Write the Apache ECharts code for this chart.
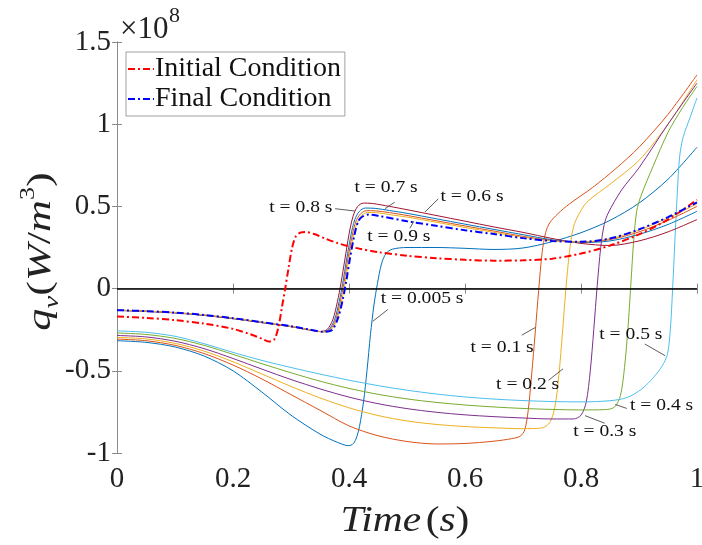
<!DOCTYPE html>
<html><head><meta charset="utf-8">
<script src="https://cdn.jsdelivr.net/npm/echarts@6/dist/echarts.min.js"></script>
<style>html,body{margin:0;padding:0;background:#fff}#c{width:702px;height:545px}</style>
</head><body><div id="c"></div>
<script>
const FONT = '"Liberation Serif","Times New Roman",serif';

// ---- data (time in s, q_v in units of 1e8 W/m^3) ----
const xTicks = [0, 0.2, 0.4, 0.6, 0.8, 1];
const yTicks = [-1, -0.5, 0, 0.5, 1, 1.5];

const c005 = [[0,-0.317],[0.05,-0.327],[0.1,-0.355],[0.15,-0.41],[0.2,-0.5],[0.25,-0.63],[0.3,-0.77],[0.35,-0.885],[0.38,-0.935],[0.399,-0.955],[0.406,-0.948],[0.412,-0.915],[0.418,-0.84],[0.425,-0.69],[0.431,-0.5],[0.437,-0.28],[0.443,-0.1],[0.449,0.03],[0.456,0.15],[0.464,0.215],[0.475,0.24],[0.5,0.25],[0.55,0.25],[0.6,0.245],[0.65,0.238],[0.7,0.247],[0.75,0.285],[0.8,0.34],[0.85,0.415],[0.9,0.52],[0.95,0.665],[1.0,0.86]];
const c01 = [[0,-0.307],[0.05,-0.317],[0.1,-0.345],[0.15,-0.395],[0.2,-0.465],[0.25,-0.55],[0.3,-0.645],[0.35,-0.74],[0.4,-0.835],[0.45,-0.895],[0.5,-0.93],[0.55,-0.945],[0.6,-0.942],[0.65,-0.928],[0.68,-0.913],[0.695,-0.898],[0.703,-0.86],[0.709,-0.74],[0.715,-0.52],[0.721,-0.27],[0.727,-0.01],[0.733,0.22],[0.739,0.34],[0.746,0.4],[0.76,0.455],[0.78,0.515],[0.82,0.615],[0.86,0.73],[0.9,0.86],[0.95,1.06],[1.0,1.3]];
const c02 = [[0,-0.297],[0.05,-0.306],[0.1,-0.333],[0.15,-0.38],[0.2,-0.445],[0.25,-0.52],[0.3,-0.595],[0.35,-0.665],[0.4,-0.725],[0.45,-0.772],[0.5,-0.805],[0.55,-0.826],[0.6,-0.839],[0.65,-0.847],[0.7,-0.852],[0.732,-0.848],[0.746,-0.815],[0.755,-0.72],[0.762,-0.52],[0.768,-0.27],[0.774,0.0],[0.78,0.22],[0.786,0.36],[0.793,0.43],[0.81,0.525],[0.85,0.635],[0.9,0.78],[0.95,1.0],[1.0,1.27]];
const c03 = [[0,-0.285],[0.05,-0.294],[0.1,-0.32],[0.15,-0.365],[0.2,-0.425],[0.25,-0.49],[0.3,-0.553],[0.35,-0.61],[0.4,-0.66],[0.45,-0.7],[0.5,-0.73],[0.55,-0.752],[0.6,-0.768],[0.65,-0.779],[0.7,-0.787],[0.75,-0.793],[0.787,-0.793],[0.8,-0.77],[0.809,-0.69],[0.816,-0.5],[0.822,-0.25],[0.828,0.02],[0.834,0.25],[0.84,0.39],[0.847,0.46],[0.87,0.6],[0.9,0.735],[0.95,1.0],[1.0,1.25]];
const c04 = [[0,-0.27],[0.05,-0.279],[0.1,-0.303],[0.15,-0.345],[0.2,-0.4],[0.25,-0.457],[0.3,-0.512],[0.35,-0.563],[0.4,-0.607],[0.45,-0.643],[0.5,-0.671],[0.55,-0.692],[0.6,-0.708],[0.65,-0.72],[0.7,-0.729],[0.75,-0.735],[0.8,-0.738],[0.842,-0.736],[0.858,-0.72],[0.868,-0.65],[0.875,-0.48],[0.881,-0.24],[0.886,0.03],[0.891,0.3],[0.896,0.47],[0.903,0.56],[0.925,0.75],[0.95,0.95],[0.975,1.1],[1.0,1.23]];
const c05 = [[0,-0.257],[0.05,-0.266],[0.1,-0.29],[0.15,-0.335],[0.2,-0.388],[0.25,-0.437],[0.3,-0.48],[0.35,-0.52],[0.4,-0.557],[0.45,-0.59],[0.5,-0.618],[0.55,-0.641],[0.6,-0.659],[0.65,-0.672],[0.7,-0.681],[0.75,-0.687],[0.8,-0.689],[0.85,-0.682],[0.88,-0.662],[0.905,-0.61],[0.925,-0.54],[0.94,-0.47],[0.949,-0.4],[0.954,-0.25],[0.958,0.0],[0.962,0.3],[0.966,0.58],[0.97,0.8],[0.976,0.92],[0.988,1.04],[1.0,1.16]];
const c06 = [[0,-0.133],[0.05,-0.139],[0.1,-0.148],[0.15,-0.163],[0.2,-0.183],[0.25,-0.207],[0.3,-0.232],[0.33,-0.25],[0.35,-0.261],[0.362,-0.25],[0.372,-0.19],[0.38,-0.08],[0.386,0.03],[0.393,0.18],[0.4,0.33],[0.407,0.44],[0.415,0.5],[0.425,0.52],[0.44,0.518],[0.47,0.5],[0.5,0.48],[0.55,0.445],[0.6,0.41],[0.65,0.375],[0.7,0.342],[0.75,0.305],[0.8,0.275],[0.85,0.262],[0.9,0.29],[0.95,0.345],[1.0,0.42]];
const c07 = [[0,-0.132],[0.05,-0.138],[0.1,-0.147],[0.15,-0.162],[0.2,-0.182],[0.25,-0.206],[0.3,-0.231],[0.33,-0.25],[0.353,-0.262],[0.365,-0.25],[0.375,-0.19],[0.383,-0.08],[0.389,0.03],[0.396,0.18],[0.403,0.32],[0.41,0.42],[0.418,0.47],[0.428,0.49],[0.445,0.488],[0.47,0.475],[0.5,0.458],[0.55,0.425],[0.6,0.392],[0.65,0.36],[0.7,0.328],[0.75,0.297],[0.8,0.28],[0.85,0.29],[0.9,0.33],[0.95,0.39],[1.0,0.47]];
const c08 = [[0,-0.131],[0.05,-0.137],[0.1,-0.146],[0.15,-0.161],[0.2,-0.181],[0.25,-0.205],[0.3,-0.23],[0.33,-0.249],[0.355,-0.263],[0.367,-0.25],[0.377,-0.19],[0.385,-0.08],[0.391,0.03],[0.398,0.18],[0.405,0.315],[0.412,0.41],[0.42,0.455],[0.43,0.474],[0.445,0.473],[0.47,0.462],[0.5,0.445],[0.55,0.413],[0.6,0.381],[0.65,0.35],[0.7,0.318],[0.75,0.293],[0.8,0.283],[0.85,0.298],[0.9,0.345],[0.95,0.415],[1.0,0.5]];
const c09 = [[0,-0.131],[0.05,-0.137],[0.1,-0.146],[0.15,-0.16],[0.2,-0.18],[0.25,-0.205],[0.3,-0.23],[0.33,-0.249],[0.356,-0.263],[0.369,-0.25],[0.379,-0.19],[0.387,-0.08],[0.393,0.03],[0.4,0.18],[0.407,0.31],[0.414,0.4],[0.422,0.445],[0.432,0.463],[0.447,0.462],[0.47,0.45],[0.5,0.435],[0.55,0.404],[0.6,0.372],[0.65,0.342],[0.7,0.312],[0.75,0.29],[0.8,0.284],[0.85,0.304],[0.9,0.356],[0.95,0.43],[1.0,0.515]];
const cInitial = [[0,-0.17],[0.05,-0.178],[0.1,-0.192],[0.15,-0.213],[0.2,-0.245],[0.23,-0.278],[0.25,-0.305],[0.262,-0.322],[0.271,-0.31],[0.278,-0.24],[0.284,-0.12],[0.29,0.0],[0.296,0.13],[0.302,0.25],[0.308,0.315],[0.316,0.34],[0.325,0.345],[0.34,0.332],[0.36,0.303],[0.38,0.277],[0.4,0.257],[0.42,0.241],[0.45,0.222],[0.5,0.2],[0.55,0.185],[0.6,0.175],[0.65,0.17],[0.7,0.172],[0.75,0.182],[0.8,0.213],[0.85,0.262],[0.9,0.33],[0.95,0.42],[1.0,0.54]];
const cFinal = [[0,-0.131],[0.05,-0.137],[0.1,-0.146],[0.15,-0.16],[0.2,-0.18],[0.25,-0.204],[0.3,-0.229],[0.33,-0.248],[0.357,-0.263],[0.371,-0.25],[0.381,-0.18],[0.389,-0.07],[0.395,0.04],[0.402,0.19],[0.409,0.32],[0.416,0.41],[0.424,0.44],[0.434,0.45],[0.45,0.443],[0.5,0.41],[0.55,0.382],[0.6,0.355],[0.65,0.332],[0.7,0.307],[0.75,0.29],[0.8,0.285],[0.85,0.305],[0.9,0.36],[0.95,0.435],[1.0,0.525]];

const curveNames = ['t = 0.005 s','t = 0.1 s','t = 0.2 s','t = 0.3 s','t = 0.4 s','t = 0.5 s','t = 0.6 s','t = 0.7 s','t = 0.8 s','t = 0.9 s'];
const curves = [c005, c01, c02, c03, c04, c05, c06, c07, c08, c09];
const curveColors = ['#0072BD','#D95319','#EDB120','#7E2F8E','#77AC30','#4DBEEE','#A2142F','#0072BD','#D95319','#EDB120'];

// annotations (data coordinates)
const annoLabels = ['t = 0.7 s','t = 0.6 s','t = 0.8 s','t = 0.9 s','t = 0.005 s','t = 0.1 s','t = 0.2 s','t = 0.3 s','t = 0.4 s','t = 0.5 s'];
const annoText = [[0.464,0.614],[0.612,0.557],[0.317,0.494],[0.486,0.316],[0.526,-0.06],[0.664,-0.361],[0.708,-0.583],[0.841,-0.869],[0.939,-0.714],[0.886,-0.28]];
const annoFrom = [[0.479,0.526],[0.554,0.546],[0.376,0.486],[0.505,0.367],[0.467,-0.127],[0.698,-0.283],[0.744,-0.558],[0.841,-0.819],[0.879,-0.729],[0.91,-0.337]];
const annoTo = [[0.462,0.486],[0.531,0.466],[0.41,0.472],[0.512,0.41],[0.441,-0.199],[0.721,-0.237],[0.769,-0.488],[0.807,-0.773],[0.859,-0.705],[0.945,-0.408]];

const AX = '#8a8a8a';
const TXT = '#222';
const fmt = v => String(Math.round(v * 10) / 10);

const chart = echarts.init(document.getElementById('c'), null, {renderer: 'canvas'});

const SMOOTH = 0.3;
const series = curves.map((d, i) => ({
  name: curveNames[i], type: 'line', data: d, symbol: 'none', smooth: SMOOTH,
  lineStyle: {color: curveColors[i], width: 1}, itemStyle: {color: curveColors[i]}, silent: true, z: 2
}));
series[0].markLine = {
  silent: true, symbol: ['none','none'], label: {show: false},
  lineStyle: {color: '#000', width: 1.6, type: 'solid'}, data: [{yAxis: 0}], z: 3
};
series.push({
  name: 'Initial Condition', type: 'line', data: cInitial, symbol: 'none', smooth: SMOOTH,
  lineStyle: {color: '#FF0000', width: 2, type: [7, 3, 2, 3]}, itemStyle: {color: '#FF0000'}, z: 4
});
series.push({
  name: 'Final Condition', type: 'line', data: cFinal, symbol: 'none', smooth: SMOOTH,
  lineStyle: {color: '#0000FF', width: 2, type: [7, 3, 2, 3]}, itemStyle: {color: '#0000FF'}, z: 5
});

const axCommon = {
  axisLine: {show: true, lineStyle: {color: AX, width: 1}},
  axisTick: {show: true, inside: true, length: 5, lineStyle: {color: AX}},
  splitLine: {show: false}
};

chart.setOption({
  animation: false,
  backgroundColor: '#fff',
  grid: {left: 117, right: 5, top: 42, bottom: 92, containLabel: false, outerBoundsMode: 'none'},
  legend: {
    data: ['Initial Condition', 'Final Condition'], orient: 'vertical', left: 126, top: 52,
    itemWidth: 26, itemHeight: 12, itemGap: 2, padding: [3, 4, 3, 1],
    borderColor: '#a0a0a0', borderWidth: 1, backgroundColor: '#fff', selectedMode: false,
    itemStyle: {opacity: 0},
    textStyle: {fontFamily: FONT, fontSize: 28, color: '#111', padding: [0, 0, 0, -4]}
  },
  xAxis: [
    Object.assign({
      type: 'value', min: xTicks[0], max: xTicks[xTicks.length - 1], interval: 0.2,
      axisLabel: {fontFamily: FONT, fontSize: 29, color: TXT, margin: 12, formatter: fmt}
    }, axCommon),
    Object.assign({
      type: 'value', position: 'top', min: xTicks[0], max: xTicks[xTicks.length - 1], interval: 0.2,
      axisLabel: {show: false}
    }, axCommon)
  ],
  yAxis: [
    Object.assign({
      type: 'value', min: yTicks[0], max: yTicks[yTicks.length - 1], interval: 0.5,
      axisLabel: {fontFamily: FONT, fontSize: 29, color: TXT, margin: 6, formatter: fmt}
    }, axCommon),
    Object.assign({
      type: 'value', position: 'right', min: yTicks[0], max: yTicks[yTicks.length - 1], interval: 0.5,
      axisLabel: {show: false}
    }, axCommon)
  ],
  series: series
});

// annotations, axis titles & exponent label
const px = p => chart.convertToPixel({gridIndex: 0}, p);
const graphics = [];
annoLabels.forEach((txt, i) => {
  const a = px(annoFrom[i]), b = px(annoTo[i]), c = px(annoText[i]);
  graphics.push({type: 'line', silent: true, z: 10,
    shape: {x1: a[0], y1: a[1], x2: b[0], y2: b[1]}, style: {stroke: '#333', lineWidth: 0.8}});
  graphics.push({type: 'text', silent: true, z: 11, x: c[0], y: c[1], scaleX: 1.15,
    style: {text: txt, fontFamily: FONT, fontSize: 17, fill: '#111', align: 'center', verticalAlign: 'middle'}});
});
const pTL = px([xTicks[0], yTicks[yTicks.length - 1]]);
const pBR = px([xTicks[xTicks.length - 1], yTicks[0]]);
graphics.push({type: 'text', silent: true, x: pTL[0] + 3, y: pTL[1] + 3,
  style: {text: '×10', fontFamily: FONT, fontSize: 31, fill: TXT, align: 'left', verticalAlign: 'bottom'}});
graphics.push({type: 'text', silent: true, x: pTL[0] + 52, y: pTL[1] - 15,
  style: {text: '8', fontFamily: FONT, fontSize: 22, fill: TXT, align: 'left', verticalAlign: 'bottom'}});
// x-axis title
graphics.push({type: 'text', silent: true, x: (pTL[0] + pBR[0]) / 2 - 2, y: pBR[1] + 69, scaleX: 1.15,
  style: {
    text: '{i|Time}{sp| }{p|(}{i|s}{p|)}', align: 'center', verticalAlign: 'middle',
    rich: {
      i: {fontFamily: FONT, fontStyle: 'italic', fontSize: 36, fill: TXT},
      p: {fontFamily: FONT, fontSize: 36, fill: TXT},
      sp: {fontFamily: FONT, fontSize: 16}
    }
  }});
// y-axis title
graphics.push({type: 'text', silent: true, x: pTL[0] - 76, y: (pTL[1] + pBR[1]) / 2 + 4,
  rotation: Math.PI / 2, scaleX: 1.3,
  style: {
    text: '{q|q}{sub|v}{p|(}{i|W}{p|/}{i|m}{sup|3}{p|)}', align: 'center', verticalAlign: 'middle',
    rich: {
      q: {fontFamily: FONT, fontStyle: 'italic', fontSize: 34, lineHeight: 44, fill: TXT},
      i: {fontFamily: FONT, fontStyle: 'italic', fontSize: 34, lineHeight: 44, fill: TXT},
      p: {fontFamily: FONT, fontSize: 34, lineHeight: 44, fill: TXT},
      sub: {fontFamily: FONT, fontStyle: 'italic', fontSize: 22, lineHeight: 22, verticalAlign: 'bottom', fill: TXT},
      sup: {fontFamily: FONT, fontSize: 20, lineHeight: 20, verticalAlign: 'top', fill: TXT}
    }
  }});
chart.setOption({graphic: graphics});
</script>
</body></html>
